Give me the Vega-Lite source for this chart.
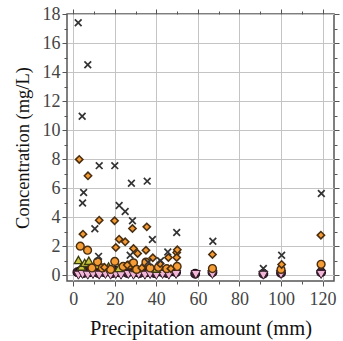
{
  "$schema": "https://vega.github.io/schema/vega-lite/v6.json",
  "autosize": "none",
  "width": 267,
  "height": 267,
  "padding": {"left": 67, "top": 14, "right": 9, "bottom": 60},
  "background": "white",
  "config": {
    "view": {"stroke": "#555555", "strokeWidth": 1.5},
    "axis": {
      "labelFont": "Liberation Serif",
      "labelFontSize": 18,
      "labelColor": "#444444",
      "titleFont": "Liberation Serif",
      "titleFontSize": 19,
      "titleFontWeight": "normal",
      "titleColor": "#111111",
      "domain": false,
      "tickColor": "#555555",
      "gridColor": "#c4c4c4",
      "gridWidth": 1
    }
  },
  "data": {
    "values": [
      {"p": 2, "c": 0.2, "s": "E"}, {"p": 3.5, "c": 0.3, "s": "E"}, {"p": 5, "c": 0.15, "s": "E"}, {"p": 6.5, "c": 0.3, "s": "E"}, {"p": 8, "c": 0.2, "s": "E"}, {"p": 10, "c": 0.25, "s": "E"}, {"p": 12, "c": 0.15, "s": "E"}, {"p": 13.5, "c": 0.3, "s": "E"}, {"p": 15, "c": 0.2, "s": "E"}, {"p": 17, "c": 0.25, "s": "E"}, {"p": 19, "c": 0.15, "s": "E"}, {"p": 20.5, "c": 0.3, "s": "E"}, {"p": 22, "c": 0.2, "s": "E"}, {"p": 24, "c": 0.25, "s": "E"}, {"p": 26, "c": 0.15, "s": "E"}, {"p": 28, "c": 0.3, "s": "E"}, {"p": 30, "c": 0.2, "s": "E"}, {"p": 32, "c": 0.15, "s": "E"}, {"p": 34, "c": 0.3, "s": "E"}, {"p": 35.5, "c": 0.2, "s": "E"}, {"p": 37, "c": 0.25, "s": "E"}, {"p": 39, "c": 0.15, "s": "E"}, {"p": 41, "c": 0.25, "s": "E"}, {"p": 43, "c": 0.2, "s": "E"}, {"p": 45, "c": 0.15, "s": "E"}, {"p": 47, "c": 0.25, "s": "E"}, {"p": 49.5, "c": 0.2, "s": "E"}, {"p": 58.7, "c": 0.1, "s": "E"}, {"p": 67, "c": 0.2, "s": "E"}, {"p": 91.5, "c": 0.1, "s": "E"}, {"p": 100, "c": 0.15, "s": "E"}, {"p": 119.3, "c": 0.2, "s": "E"},
      {"p": 2.5, "c": 0.0, "s": "F"}, {"p": 4.5, "c": 0.05, "s": "F"}, {"p": 7, "c": 0.0, "s": "F"}, {"p": 9.5, "c": 0.05, "s": "F"}, {"p": 12.5, "c": 0.0, "s": "F"}, {"p": 15.5, "c": 0.05, "s": "F"}, {"p": 18, "c": 0.0, "s": "F"}, {"p": 20.5, "c": 0.05, "s": "F"}, {"p": 23, "c": 0.0, "s": "F"}, {"p": 26.5, "c": 0.05, "s": "F"}, {"p": 29, "c": 0.0, "s": "F"}, {"p": 31.5, "c": 0.05, "s": "F"}, {"p": 34.5, "c": 0.0, "s": "F"}, {"p": 37, "c": 0.05, "s": "F"}, {"p": 40, "c": 0.0, "s": "F"}, {"p": 43, "c": 0.05, "s": "F"}, {"p": 46, "c": 0.0, "s": "F"}, {"p": 49.5, "c": 0.05, "s": "F"}, {"p": 59, "c": 0.05, "s": "F"}, {"p": 67, "c": 0.05, "s": "F"}, {"p": 91.5, "c": 0.0, "s": "F"}, {"p": 100, "c": 0.05, "s": "F"}, {"p": 119.3, "c": 0.05, "s": "F"},
      {"p": 2.5, "c": 1.05, "s": "D"}, {"p": 4, "c": 0.6, "s": "D"}, {"p": 5.5, "c": 0.85, "s": "D"}, {"p": 7.5, "c": 1.0, "s": "D"}, {"p": 12, "c": 0.7, "s": "D"}, {"p": 17, "c": 0.6, "s": "D"}, {"p": 22, "c": 0.5, "s": "D"}, {"p": 30, "c": 0.5, "s": "D"}, {"p": 40, "c": 0.45, "s": "D"},
      {"p": 3.4, "c": 2.0, "s": "C"}, {"p": 6.9, "c": 1.72, "s": "C"}, {"p": 11.7, "c": 0.92, "s": "C"}, {"p": 9, "c": 0.5, "s": "C"}, {"p": 14, "c": 0.5, "s": "C"}, {"p": 18, "c": 0.4, "s": "C"}, {"p": 20, "c": 0.95, "s": "C"}, {"p": 24, "c": 0.6, "s": "C"}, {"p": 27, "c": 0.7, "s": "C"}, {"p": 29, "c": 0.85, "s": "C"}, {"p": 30.5, "c": 0.4, "s": "C"}, {"p": 35, "c": 0.9, "s": "C"}, {"p": 37, "c": 0.5, "s": "C"}, {"p": 41, "c": 0.55, "s": "C"}, {"p": 45, "c": 0.45, "s": "C"}, {"p": 50, "c": 0.6, "s": "C"}, {"p": 67, "c": 0.46, "s": "C"}, {"p": 100, "c": 0.4, "s": "C"}, {"p": 119.3, "c": 0.75, "s": "C"},
      {"p": 2.9, "c": 7.98, "s": "B"}, {"p": 7.1, "c": 6.85, "s": "B"}, {"p": 4.7, "c": 2.83, "s": "B"}, {"p": 12.5, "c": 3.79, "s": "B"}, {"p": 19.9, "c": 3.75, "s": "B"}, {"p": 22.1, "c": 2.48, "s": "B"}, {"p": 25, "c": 2.3, "s": "B"}, {"p": 20.5, "c": 1.91, "s": "B"}, {"p": 28.5, "c": 3.22, "s": "B"}, {"p": 29, "c": 1.84, "s": "B"}, {"p": 35.4, "c": 3.33, "s": "B"}, {"p": 35, "c": 1.72, "s": "B"}, {"p": 38.3, "c": 1.2, "s": "B"}, {"p": 31, "c": 1.5, "s": "B"}, {"p": 49.8, "c": 1.56, "s": "B"}, {"p": 49.8, "c": 1.22, "s": "B"}, {"p": 45.8, "c": 1.22, "s": "B"}, {"p": 41.8, "c": 0.8, "s": "B"}, {"p": 50.1, "c": 1.75, "s": "B"}, {"p": 15, "c": 0.55, "s": "B"}, {"p": 26, "c": 0.7, "s": "B"}, {"p": 33, "c": 0.5, "s": "B"}, {"p": 47, "c": 0.45, "s": "B"}, {"p": 67, "c": 1.43, "s": "B"}, {"p": 100.3, "c": 0.74, "s": "B"}, {"p": 119.2, "c": 2.76, "s": "B"},
      {"p": 2.4, "c": 17.4, "s": "A"}, {"p": 7, "c": 14.5, "s": "A"}, {"p": 4.3, "c": 10.95, "s": "A"}, {"p": 12.5, "c": 7.55, "s": "A"}, {"p": 20, "c": 7.55, "s": "A"}, {"p": 28, "c": 6.34, "s": "A"}, {"p": 35.6, "c": 6.48, "s": "A"}, {"p": 5, "c": 5.7, "s": "A"}, {"p": 4.5, "c": 4.97, "s": "A"}, {"p": 22.1, "c": 4.8, "s": "A"}, {"p": 25, "c": 4.39, "s": "A"}, {"p": 28.5, "c": 3.75, "s": "A"}, {"p": 10.4, "c": 3.2, "s": "A"}, {"p": 38.1, "c": 2.46, "s": "A"}, {"p": 27.4, "c": 1.38, "s": "A"}, {"p": 12.2, "c": 1.3, "s": "A"}, {"p": 49.8, "c": 2.94, "s": "A"}, {"p": 45.5, "c": 1.6, "s": "A"}, {"p": 36, "c": 0.9, "s": "A"}, {"p": 42, "c": 1.0, "s": "A"}, {"p": 67.2, "c": 2.34, "s": "A"}, {"p": 100.3, "c": 1.38, "s": "A"}, {"p": 119.4, "c": 5.63, "s": "A"}, {"p": 91.5, "c": 0.46, "s": "A"}
    ]
  },
  "layer": [
    {
      "mark": {"type": "point", "filled": true, "opacity": 1},
      "encoding": {
        "x": {
          "field": "p", "type": "quantitative",
          "scale": {"domain": [-3, 125.5], "nice": false, "zero": false},
          "axis": {
            "title": "Precipitation amount (mm)",
            "titleFontSize": 20.5,
            "values": [0, 10, 20, 30, 40, 50, 60, 70, 80, 90, 100, 110, 120],
            "labelExpr": "datum.value % 20 === 0 ? datum.label : ''",
            "tickSize": {"condition": {"test": "datum.value % 20 === 0", "value": 5}, "value": 3},
            "gridOpacity": {"condition": {"test": "datum.value % 20 === 0", "value": 1}, "value": 0},
            "labelPadding": 4,
            "titlePadding": 10
          }
        },
        "y": {
          "field": "c", "type": "quantitative",
          "scale": {"domain": [-0.4, 18], "nice": false, "zero": false},
          "axis": {
            "title": "Concentration (mg/L)",
            "titleFontSize": 18.5,
            "values": [0, 1, 2, 3, 4, 5, 6, 7, 8, 9, 10, 11, 12, 13, 14, 15, 16, 17, 18],
            "labelExpr": "datum.value % 2 === 0 ? datum.label : ''",
            "tickSize": {"condition": {"test": "datum.value % 2 === 0", "value": 5}, "value": 3},
            "gridOpacity": {"condition": {"test": "datum.value % 2 === 0", "value": 1}, "value": 0},
            "labelPadding": 2,
            "titlePadding": 10
          }
        },
        "shape": {
          "field": "s", "type": "nominal", "legend": null,
          "scale": {"domain": ["A", "B", "C", "D", "E", "F"], "range": ["M-1,-1L1,1M-1,1L1,-1", "diamond", "circle", "triangle-up", "circle", "triangle-down"]}
        },
        "fill": {
          "field": "s", "type": "nominal", "legend": null,
          "scale": {"domain": ["A", "B", "C", "D", "E", "F"], "range": ["#333333", "#f39a34", "#f49c36", "#c9c43c", "#3b1f2e", "#f2b6d8"]}
        },
        "stroke": {
          "field": "s", "type": "nominal", "legend": null,
          "scale": {"domain": ["A", "B", "C", "D", "E", "F"], "range": ["#333333", "#4a2e10", "#4a2e10", "#3a3a10", "#1e0f18", "#3b1f2e"]}
        },
        "size": {
          "field": "s", "type": "nominal", "legend": null,
          "scale": {"domain": ["A", "B", "C", "D", "E", "F"], "range": [45, 85, 90, 45, 60, 35]}
        },
        "strokeWidth": {
          "field": "s", "type": "nominal", "legend": null,
          "scale": {"domain": ["A", "B", "C", "D", "E", "F"], "range": [1.7, 1, 1, 0.8, 1, 0.6]}
        }
      }
    },
    {
      "mark": {"type": "point", "opacity": 0},
      "encoding": {
        "x": {
          "field": "p", "type": "quantitative",
          "axis": {
            "orient": "top", "title": null, "labels": false, "grid": false,
            "values": [0, 10, 20, 30, 40, 50, 60, 70, 80, 90, 100, 110, 120],
            "tickSize": {"condition": {"test": "datum.value % 20 === 0", "value": 5}, "value": 3}
          }
        },
        "y": {
          "field": "c", "type": "quantitative",
          "axis": {
            "orient": "right", "title": null, "labels": false, "grid": false,
            "values": [0, 1, 2, 3, 4, 5, 6, 7, 8, 9, 10, 11, 12, 13, 14, 15, 16, 17, 18],
            "tickSize": {"condition": {"test": "datum.value % 2 === 0", "value": 5}, "value": 3}
          }
        }
      }
    }
  ],
  "resolve": {"axis": {"x": "independent", "y": "independent"}}
}
